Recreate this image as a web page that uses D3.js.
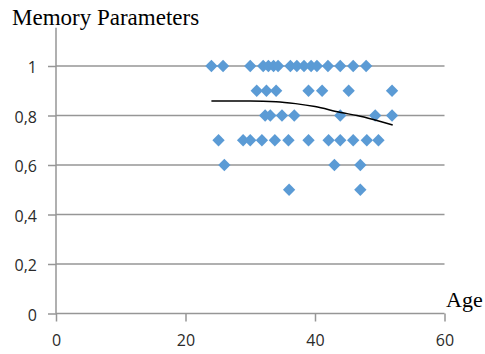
<!DOCTYPE html>
<html>
<head>
<meta charset="utf-8">
<script src="https://cdn.jsdelivr.net/npm/d3@7"></script>
<style>
  body { margin: 0; background: #fff; }
  svg { display: block; }
</style>
</head>
<body>
<svg id="chart" width="485" height="354"></svg>
<script>
// Datos (edad, parametro de memoria)
const ages1 = [24, 25.8, 30, 32, 32.8, 33.6, 34.3, 36.2, 37.2, 38.3, 39.4, 40.3, 42, 43.9, 45.9, 47.9];
const ages09 = [31, 32.5, 34, 39, 41.1, 45.2, 51.9];
const ages08 = [32.3, 33.1, 34.9, 36.8, 43.9, 49.3, 51.9];
const ages07 = [25.1, 28.9, 30, 31.8, 33.8, 35.9, 39, 42.1, 43.9, 45.9, 48, 49.8];
const ages06 = [26, 43, 47];
const ages05 = [36, 47];

// Linea de tendencia (puntos leidos)
const trendAge = [24, 30, 34, 37, 40, 44, 46.5, 49, 52];
const trendVal = [0.859, 0.859, 0.856, 0.848, 0.836, 0.812, 0.8, 0.784, 0.762];

const xTicks = [0, 20, 40, 60];
const yTicks = [0, 0.2, 0.4, 0.6, 0.8, 1];

const puntos = [
  ...ages1.map(a => [a, 1]),
  ...ages09.map(a => [a, 0.9]),
  ...ages08.map(a => [a, 0.8]),
  ...ages07.map(a => [a, 0.7]),
  ...ages06.map(a => [a, 0.6]),
  ...ages05.map(a => [a, 0.5])
];

const svg = d3.select("#chart");

const x = d3.scaleLinear().domain([0, 60]).range([56, 444.5]);
const y = d3.scaleLinear().domain([0, 1]).range([313.5, 66]);

const gris = "#969696";
const fmt = d => String(d).replace(".", ",");

// Lineas de cuadricula
svg.append("g")
  .selectAll("line")
  .data(yTicks.filter(d => d > 0))
  .join("line")
  .attr("x1", x(0))
  .attr("x2", x(60))
  .attr("y1", d => y(d))
  .attr("y2", d => y(d))
  .attr("stroke", gris)
  .attr("stroke-width", 1.5);

// Eje Y
const ejeY = svg.append("g")
  .attr("transform", `translate(${x(0)},0)`)
  .call(d3.axisLeft(y).tickValues(yTicks).tickSize(8).tickPadding(11).tickFormat(fmt));
ejeY.select(".domain").remove();
ejeY.append("line")
  .attr("y1", y(0))
  .attr("y2", y(1.155))
  .attr("stroke", gris)
  .attr("stroke-width", 1.5);

// Eje X
const ejeX = svg.append("g")
  .attr("transform", `translate(0,${y(0)})`)
  .call(d3.axisBottom(x).tickValues(xTicks).tickSize(8).tickPadding(13));
ejeX.select(".domain").remove();
ejeX.append("line")
  .attr("x1", x(0))
  .attr("x2", x(60))
  .attr("stroke", gris)
  .attr("stroke-width", 1.5);

svg.selectAll(".tick line").attr("stroke", gris).attr("stroke-width", 1.5);
svg.selectAll(".tick text")
  .attr("fill", "#2a2a2a")
  .style("font-family", "'Open Sans', sans-serif")
  .style("font-size", "16px");
ejeY.selectAll(".tick text").attr("dy", "0.42em");

// Puntos (rombos)
const rombo = d3.symbol().type(d3.symbolSquare).size(76);
svg.append("g")
  .selectAll("path")
  .data(puntos)
  .join("path")
  .attr("d", rombo)
  .attr("transform", d => `translate(${x(d[0])},${y(d[1])}) rotate(45)`)
  .attr("fill", "#5b9bd5");

// Tendencia
const linea = d3.line()
  .x(d => x(d[0]))
  .y(d => y(d[1]))
  .curve(d3.curveMonotoneX);
svg.append("path")
  .datum(trendAge.map((a, i) => [a, trendVal[i]]))
  .attr("d", linea)
  .attr("fill", "none")
  .attr("stroke", "#000")
  .attr("stroke-width", 1.5);

// Titulos
svg.append("text")
  .attr("x", 12)
  .attr("y", 25)
  .style("font-family", "'Liberation Serif', 'Times New Roman', serif")
  .style("font-size", "23px")
  .attr("fill", "#000")
  .text("Memory Parameters");

svg.append("text")
  .attr("x", 446)
  .attr("y", 307)
  .style("font-family", "'Liberation Serif', 'Times New Roman', serif")
  .style("font-size", "22px")
  .attr("fill", "#000")
  .text("Age");
</script>
</body>
</html>
